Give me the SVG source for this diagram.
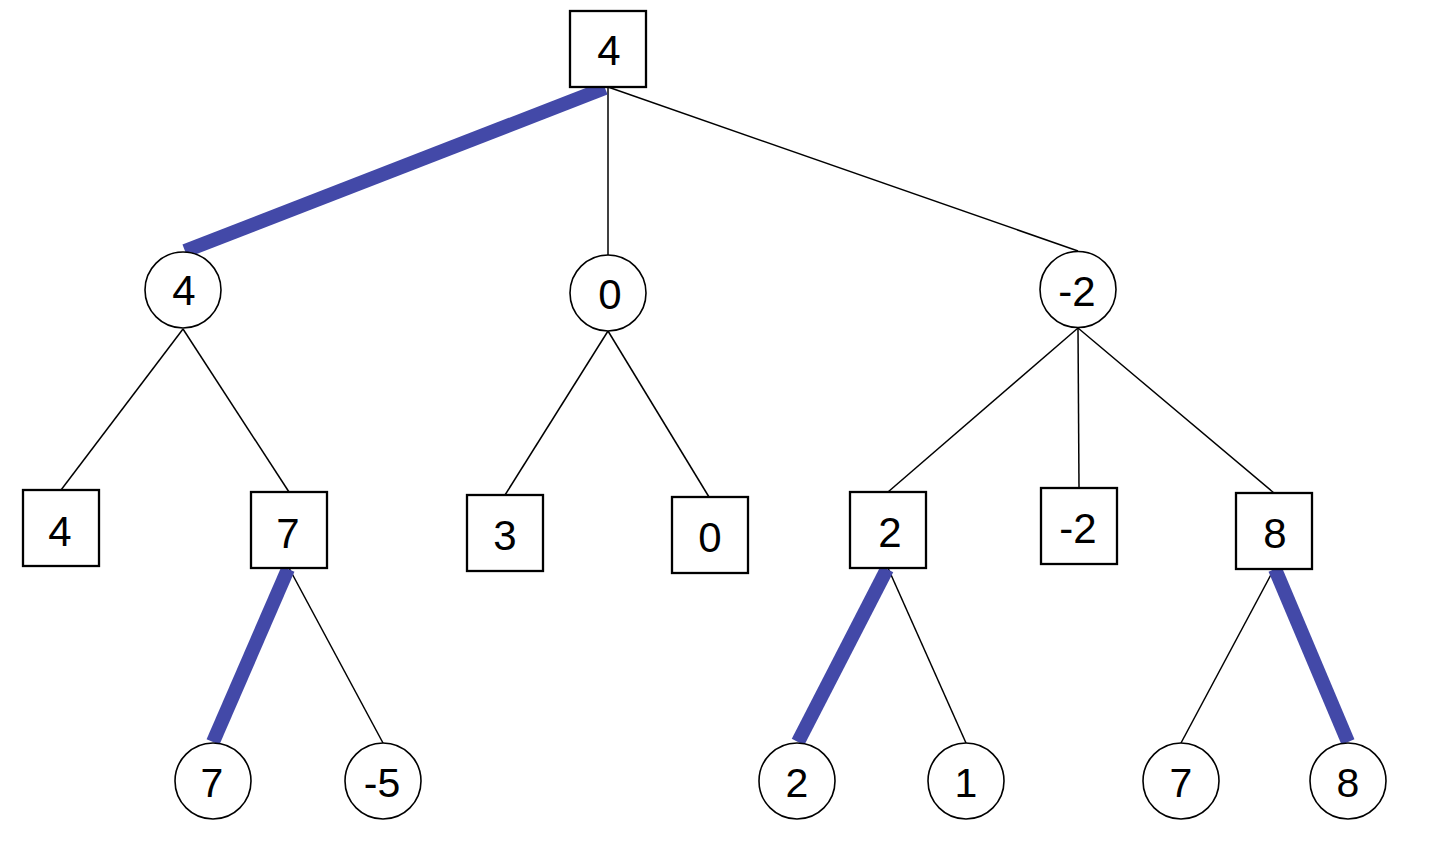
<svg xmlns="http://www.w3.org/2000/svg" width="1433" height="849" viewBox="0 0 1433 849">
<style>
.box{fill:#fff;stroke:#000;stroke-width:2.3}
.circ{fill:#fff;stroke:#000;stroke-width:1.6}
.edge{stroke:#000;stroke-width:1.5;fill:none}
.best{stroke:#4349A8;stroke-width:14;fill:none;stroke-linecap:butt}
text{font-family:"Liberation Sans",Arial,sans-serif;text-anchor:middle;fill:#000}
.t36{font-size:42px}
.t42{font-size:42px}
.t40{font-size:41px}
</style>
<rect width="1433" height="849" fill="#fff"/>
<g id="connectors">
<line class="edge" x1="608" y1="87" x2="608" y2="255"/>
<line class="edge" x1="608" y1="87" x2="1078" y2="251"/>
<line class="edge" x1="183" y1="329" x2="61" y2="490"/>
<line class="edge" x1="183" y1="329" x2="289" y2="492"/>
<line class="edge" x1="608" y1="331" x2="505" y2="495"/>
<line class="edge" x1="608" y1="331" x2="709" y2="497"/>
<line class="edge" x1="1078" y1="328" x2="888" y2="492"/>
<line class="edge" x1="1078" y1="328" x2="1079" y2="488"/>
<line class="edge" x1="1078" y1="328" x2="1274" y2="493"/>
<line class="edge" x1="289" y1="568" x2="383" y2="743"/>
<line class="edge" x1="888" y1="568" x2="966" y2="743"/>
<line class="edge" x1="1274" y1="569" x2="1181" y2="743"/>
<line class="best" x1="605" y1="88" x2="185" y2="251"/>
<line class="best" x1="288" y1="569" x2="213" y2="742"/>
<line class="best" x1="887" y1="569" x2="798" y2="742"/>
<line class="best" x1="1275" y1="569" x2="1348" y2="742"/>
</g>
<g id="n-root"><rect class="box" x="570" y="11" width="76" height="76"/><text class="t36" x="609" y="65">4</text></g>
<g id="n-a"><circle class="circ" cx="183" cy="290" r="38"/><text class="t36" x="184" y="305">4</text></g>
<g id="n-b"><circle class="circ" cx="608" cy="293" r="38"/><text class="t36" x="610" y="309">0</text></g>
<g id="n-c"><circle class="circ" cx="1078" cy="289.5" r="38"/><text class="t36" x="1077" y="305.5">-2</text></g>
<g id="n-a1"><rect class="box" x="23" y="490" width="76" height="76"/><text class="t42" x="60" y="546">4</text></g>
<g id="n-a2"><rect class="box" x="251" y="492" width="76" height="76"/><text class="t42" x="288" y="548">7</text></g>
<g id="n-b1"><rect class="box" x="467" y="495" width="76" height="76"/><text class="t42" x="505" y="550">3</text></g>
<g id="n-b2"><rect class="box" x="672" y="497" width="76" height="76"/><text class="t42" x="710" y="552">0</text></g>
<g id="n-c1"><rect class="box" x="850" y="492" width="76" height="76"/><text class="t42" x="890" y="547">2</text></g>
<g id="n-c2"><rect class="box" x="1041" y="488" width="76" height="76"/><text class="t42" x="1078" y="543">-2</text></g>
<g id="n-c3"><rect class="box" x="1236" y="493" width="76" height="76"/><text class="t42" x="1275" y="548">8</text></g>
<g id="n-a2a"><circle class="circ" cx="213" cy="781" r="38"/><text class="t40" x="212" y="797">7</text></g>
<g id="n-a2b"><circle class="circ" cx="383" cy="781" r="38"/><text class="t40" x="382" y="797">-5</text></g>
<g id="n-c1a"><circle class="circ" cx="797" cy="781" r="38"/><text class="t40" x="797" y="797">2</text></g>
<g id="n-c1b"><circle class="circ" cx="966" cy="781" r="38"/><text class="t40" x="966" y="797">1</text></g>
<g id="n-c3a"><circle class="circ" cx="1181" cy="781" r="38"/><text class="t40" x="1181" y="797">7</text></g>
<g id="n-c3b"><circle class="circ" cx="1348" cy="781" r="38"/><text class="t40" x="1348" y="797">8</text></g>
</svg>
